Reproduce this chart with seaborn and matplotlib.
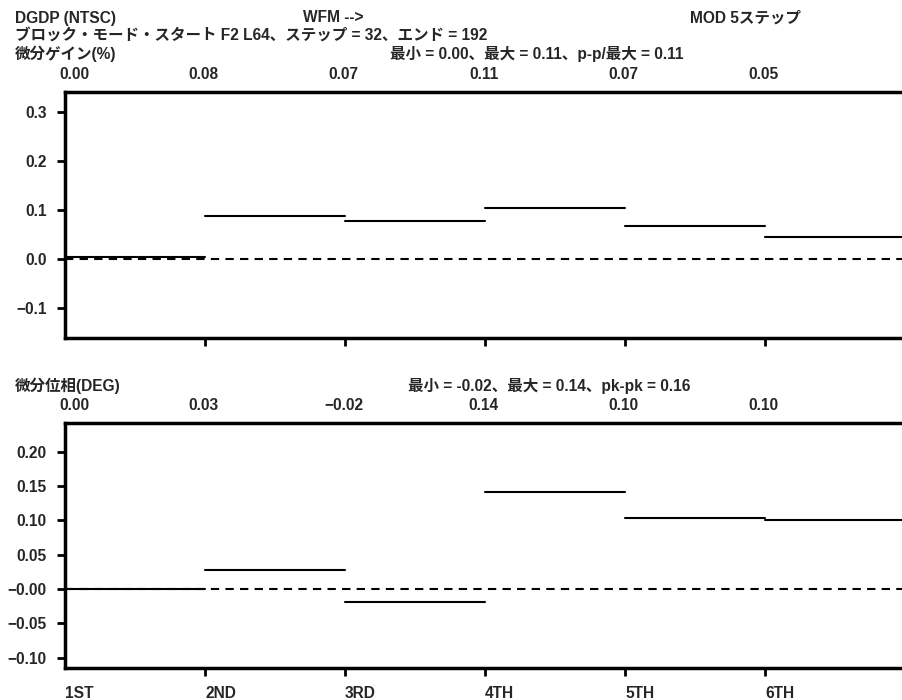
import numpy as np
import pandas as pd
import matplotlib
matplotlib.use("Agg")
import matplotlib.pyplot as plt
import seaborn as sns

sns.set_theme(style="white")
plt.rcParams['font.family'] = ['Liberation Sans', 'Noto Sans CJK JP', 'DejaVu Sans']
plt.rcParams['font.weight'] = 'bold'
plt.rcParams['axes.unicode_minus'] = True

steps = ["1ST", "2ND", "3RD", "4TH", "5TH", "6TH"]
gain_values = [0.004, 0.087, 0.077, 0.104, 0.067, 0.045]
gain_labels = ["0.00", "0.08", "0.07", "0.11", "0.07", "0.05"]
phase_values = [0.0, 0.028, -0.019, 0.141, 0.104, 0.101]
phase_labels = ["0.00", "0.03", "\u22120.02", "0.14", "0.10", "0.10"]
gain_yticks = [-0.1, 0.0, 0.1, 0.2, 0.3]
gain_yticklabels = ["\u22120.1", "0.0", "0.1", "0.2", "0.3"]
phase_yticks = [-0.10, -0.05, 0.0, 0.05, 0.10, 0.15, 0.20]
phase_yticklabels = ["\u22120.10", "\u22120.05", "\u22120.00", "0.05", "0.10", "0.15", "0.20"]

FS = 11.2
fig = plt.figure(figsize=(9.02, 7.0), dpi=100)
ax1 = fig.add_axes([65/902, (700-338)/700, 837/902, (338-92)/700])
ax2 = fig.add_axes([65/902, (700-668)/700, 837/902, (668-423)/700])

def long_form(vals):
    rows = []
    for i, v in enumerate(vals):
        rows.append({"x": i, "y": v, "step": i})
        rows.append({"x": i + 1, "y": v, "step": i})
    return pd.DataFrame(rows)

def style_axis(ax, yticks, yticklabels, ylim, show_xlabels):
    xmax = 837 / 140
    ax.axhline(0, color="black", lw=1.5, ls=(0, (4, 3)), zorder=1)
    ax.set_xlim(0, xmax)
    ax.set_ylim(*ylim)
    ax.set_yticks(yticks)
    ax.set_yticklabels(yticklabels, fontsize=FS, fontweight="bold")
    ax.set_xticks(range(len(steps)))
    if show_xlabels:
        ax.set_xticklabels(steps, fontsize=FS, fontweight="bold", ha="left")
    else:
        ax.set_xticklabels([])
    ax.tick_params(axis="both", direction="out", length=6, width=2, color="black",
                   bottom=True, left=True, pad=7)
    ax.xaxis.get_major_ticks()[0].tick1line.set_visible(False)
    ax.set_xlabel("")
    ax.set_ylabel("")
    for s in ["left", "bottom", "top"]:
        ax.spines[s].set_visible(True)
        ax.spines[s].set_color("black")
        ax.spines[s].set_linewidth(2.5)
    ax.spines["right"].set_visible(False)
    ax.grid(False)

def top_values(ax, labels):
    for i, lab in enumerate(labels):
        if i == 0:
            ax.annotate(lab, xy=(0, 1), xycoords=("data", "axes fraction"),
                        xytext=(-4, 7), textcoords="offset points",
                        ha="left", va="bottom", fontsize=FS, fontweight="bold")
        else:
            ax.annotate(lab, xy=(i, 1), xycoords=("data", "axes fraction"),
                        xytext=(-1, 7), textcoords="offset points",
                        ha="center", va="bottom", fontsize=FS, fontweight="bold")

sns.lineplot(data=long_form(gain_values), x="x", y="y", units="step", estimator=None,
             color="black", lw=1.5, ax=ax1, zorder=3)
style_axis(ax1, gain_yticks, gain_yticklabels, (-0.161, 0.341), False)
top_values(ax1, gain_labels)

sns.lineplot(data=long_form(phase_values), x="x", y="y", units="step", estimator=None,
             color="black", lw=1.5, ax=ax2, zorder=3)
style_axis(ax2, phase_yticks, phase_yticklabels, (-0.115, 0.242), True)
top_values(ax2, phase_labels)

def ftext(x, y, s, **kw):
    fig.text(x/902, 1 - y/700, s, fontsize=FS, fontweight="bold", va="center", **kw)

ftext(15, 18, "DGDP (NTSC)")
ftext(303, 18, "WFM -->")
ftext(690, 18, "MOD 5ステップ")
ftext(15, 35, "ブロック・モード・スタート F2 L64、ステップ = 32、エンド = 192")
ftext(15, 54, "微分ゲイン(%)")
ftext(683, 54, "最小 = 0.00、最大 = 0.11、p-p/最大 = 0.11", ha="right")
ftext(15, 386, "微分位相(DEG)")
ftext(690, 386, "最小 = -0.02、最大 = 0.14、pk-pk = 0.16", ha="right")

fig.savefig("out.png", dpi=100)
